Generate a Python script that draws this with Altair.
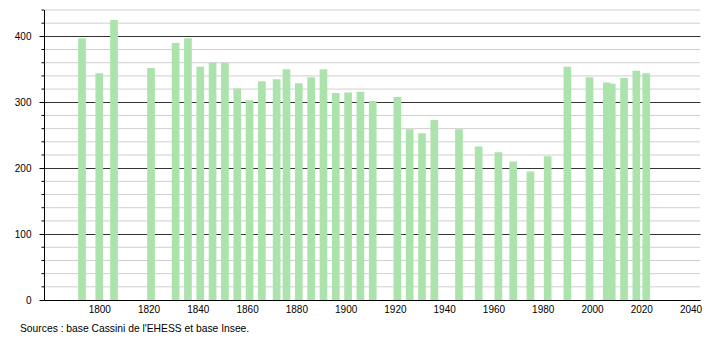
import altair as alt
import pandas as pd

years = [1793, 1800, 1806, 1821, 1831, 1836, 1841, 1846, 1851, 1856, 1861,
         1866, 1872, 1876, 1881, 1886, 1891, 1896, 1901, 1906, 1911, 1921,
         1926, 1931, 1936, 1946, 1954, 1962, 1968, 1975, 1982, 1990, 1999,
         2006, 2008, 2013, 2018, 2022]
population = [397, 344, 425, 352, 390, 397, 354, 360, 360, 321, 303,
              332, 335, 350, 329, 338, 350, 314, 315, 316, 302, 308,
              259, 253, 273, 259, 233, 224, 210, 195, 218, 354, 338,
              330, 328, 337, 348, 344]
x_tick_labels = [1800, 1820, 1840, 1860, 1880, 1900, 1920, 1940, 1960, 1980, 2000, 2020, 2040]
major_ticks = [0, 100, 200, 300, 400]
minor_ticks = [v for v in range(0, 441, 20) if v % 100 != 0]
source_text = ["Sources : base Cassini de l'EHESS et base Insee."]

FONT = "Liberation Sans"

df = pd.DataFrame({"year": years, "pop": population})
minor_df = pd.DataFrame({"v": minor_ticks})
src_df = pd.DataFrame({"t": source_text})

x_scale = alt.Scale(domain=[1779.6, 2041.8], nice=False, zero=False)
y_scale = alt.Scale(domain=[0, 440], nice=False)

y_axis = alt.Axis(values=major_ticks, grid=True, gridColor="#333333", gridWidth=1,
                  tickSize=5, tickColor="black", domainColor="black", domainWidth=1,
                  title=None, labelPadding=8, labelFontSize=10, labelColor="black",
                  labelFont=FONT)
x_axis = alt.Axis(values=x_tick_labels, format="d", tickSize=0, labelPadding=4,
                  grid=False, title=None, domainColor="black", labelFontSize=10,
                  labelColor="black", labelFont=FONT)

minor_grid = alt.Chart(minor_df).mark_rule(color="#cfcfcf", strokeWidth=1).encode(
    y=alt.Y("v:Q", scale=y_scale, axis=y_axis),
    x=alt.value(0), x2=alt.value(656),
)

minor_tk = alt.Chart(minor_df).mark_rule(color="black", strokeWidth=1).encode(
    y=alt.Y("v:Q", scale=y_scale, axis=y_axis),
    x=alt.value(-2.5), x2=alt.value(0),
)

y_line = alt.Chart(pd.DataFrame({"y0": [0], "y1": [440]})).mark_rule(
    color="black", strokeWidth=1).encode(
    y=alt.Y("y0:Q", scale=y_scale, axis=y_axis), y2="y1:Q", x=alt.value(0.5),
)

bars = alt.Chart(df).mark_bar(color="#ace3ac", width=7.7).encode(
    x=alt.X("year:Q", scale=x_scale, axis=x_axis),
    y=alt.Y("pop:Q", scale=y_scale, axis=y_axis),
)

src = alt.Chart(src_df).mark_text(align="left", baseline="middle", fontSize=10.3,
                                  font=FONT, color="black").encode(
    text="t:N", x=alt.value(-24), y=alt.value(319),
)

chart = alt.layer(minor_grid, bars, minor_tk, y_line, src).properties(
    width=656, height=290,
    padding={"left": 44, "top": 10, "right": 10, "bottom": 40},
    autosize=alt.AutoSizeParams(type="none"),
    background="white",
).configure_view(stroke=None)

chart.save("out.html", embed_options={"renderer": "svg", "actions": False})
